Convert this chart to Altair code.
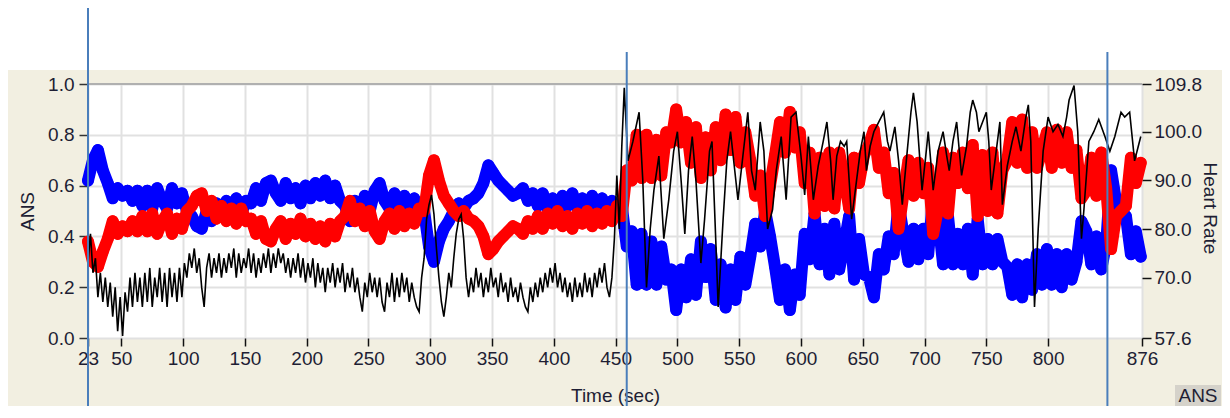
import altair as alt
import pandas as pd

# ---------------- data ----------------
X_TICKS = [23, 50, 100, 150, 200, 250, 300, 350, 400, 450, 500, 550, 600, 650, 700, 750, 800, 876]
ANS_TICKS = [0.0, 0.2, 0.4, 0.6, 0.8, 1.0]
HR_TICKS = [57.6, 70.0, 80.0, 90.0, 100.0, 109.8]
MARKER_FIRST = [23]
MARKER_OTHERS = [459, 848]

# ANS samples every 4 s starting at 23 s
ANS_START, ANS_STEP = 23, 4
red1 = [0.38, 0.30, 0.28, 0.34, 0.39, 0.46, 0.41, 0.44, 0.42, 0.46]
red2 = [0.42, 0.48, 0.42, 0.49, 0.41, 0.46, 0.49, 0.41, 0.47, 0.43, 0.50]
red3 = [0.52, 0.56, 0.57, 0.50, 0.54, 0.47, 0.52, 0.46, 0.51, 0.45, 0.51, 0.46]
red4 = [0.47, 0.41, 0.46, 0.39, 0.38, 0.43, 0.46, 0.39, 0.45, 0.41, 0.47, 0.40, 0.45, 0.39, 0.44, 0.38, 0.45, 0.40, 0.46]
red5 = [0.48, 0.54, 0.46, 0.51, 0.44, 0.50, 0.42, 0.39, 0.46, 0.49, 0.43, 0.50, 0.44, 0.49, 0.45, 0.51]
red6 = [0.50, 0.64, 0.70, 0.62, 0.56, 0.53, 0.50, 0.48, 0.50, 0.47, 0.46, 0.44, 0.40, 0.33, 0.35]
red7 = [0.38, 0.40, 0.42, 0.44, 0.43, 0.41, 0.46, 0.43, 0.48, 0.43, 0.49, 0.45, 0.50, 0.44, 0.48, 0.43, 0.49, 0.45, 0.50, 0.44, 0.49, 0.45, 0.50, 0.46, 0.52]
red8 = [0.48, 0.66, 0.62, 0.80, 0.63, 0.80, 0.63, 0.78, 0.64, 0.81, 0.77, 0.90, 0.77, 0.85, 0.69, 0.83, 0.63, 0.79, 0.66, 0.83,
        0.70, 0.88, 0.74, 0.87, 0.69, 0.81, 0.70, 0.56, 0.64, 0.48, 0.60, 0.72, 0.85, 0.73, 0.89, 0.75]
red9 = [0.81, 0.61, 0.73, 0.49, 0.71, 0.52, 0.73, 0.51, 0.73, 0.63, 0.51, 0.71, 0.61, 0.72, 0.76, 0.82, 0.67, 0.73, 0.57, 0.65,
        0.43, 0.57, 0.70, 0.56, 0.69, 0.57, 0.67, 0.41, 0.51, 0.73, 0.49, 0.71, 0.61, 0.73, 0.59]
red10 = [0.76, 0.48, 0.72, 0.50, 0.73, 0.49, 0.66, 0.70, 0.85, 0.69, 0.86, 0.67, 0.81, 0.67, 0.74, 0.81, 0.67, 0.82, 0.69, 0.81,
         0.67, 0.74, 0.55, 0.58, 0.71, 0.56, 0.73, 0.59, 0.35, 0.48, 0.50, 0.52, 0.71, 0.61, 0.69]

blue1 = [0.62, 0.70, 0.74, 0.66, 0.61, 0.55, 0.59, 0.56, 0.58, 0.54]
blue2 = [0.58, 0.52, 0.58, 0.51, 0.59, 0.54, 0.51, 0.59, 0.53, 0.57, 0.50]
blue3 = [0.48, 0.44, 0.43, 0.50, 0.46, 0.53, 0.48, 0.54, 0.49, 0.55, 0.49, 0.54]
blue4 = [0.53, 0.59, 0.54, 0.61, 0.62, 0.57, 0.54, 0.61, 0.55, 0.59, 0.53, 0.60, 0.55, 0.61, 0.56, 0.62, 0.55, 0.60, 0.54]
blue5 = [0.52, 0.46, 0.54, 0.49, 0.56, 0.50, 0.58, 0.61, 0.54, 0.51, 0.57, 0.50, 0.56, 0.51, 0.55, 0.49]
blue6 = [0.50, 0.36, 0.30, 0.38, 0.43, 0.46, 0.50, 0.53, 0.51, 0.54, 0.55, 0.57, 0.61, 0.68, 0.65]
blue7 = [0.62, 0.60, 0.58, 0.56, 0.57, 0.59, 0.54, 0.57, 0.52, 0.57, 0.51, 0.55, 0.50, 0.56, 0.52, 0.57, 0.51, 0.55, 0.50, 0.56, 0.51, 0.55, 0.50, 0.54, 0.48]
blue8 = [0.52, 0.36, 0.42, 0.21, 0.41, 0.21, 0.38, 0.21, 0.36, 0.23, 0.27, 0.11, 0.27, 0.16, 0.31, 0.17, 0.38, 0.24, 0.35, 0.15,
         0.29, 0.12, 0.27, 0.15, 0.32, 0.21, 0.32, 0.45, 0.36, 0.50, 0.40, 0.28, 0.15, 0.27, 0.11, 0.25]
blue9 = [0.17, 0.41, 0.31, 0.49, 0.29, 0.43, 0.25, 0.45, 0.27, 0.37, 0.48, 0.23, 0.39, 0.25, 0.24, 0.16, 0.33, 0.27, 0.40, 0.33,
         0.53, 0.41, 0.30, 0.43, 0.31, 0.43, 0.33, 0.56, 0.47, 0.29, 0.48, 0.29, 0.41, 0.29, 0.43]
blue10 = [0.25, 0.47, 0.29, 0.39, 0.29, 0.39, 0.30, 0.28, 0.17, 0.29, 0.16, 0.29, 0.19, 0.33, 0.21, 0.35, 0.21, 0.33, 0.20, 0.33,
          0.23, 0.30, 0.46, 0.42, 0.29, 0.40, 0.27, 0.37, 0.66, 0.54, 0.50, 0.48, 0.33, 0.42, 0.32]

# Heart rate, first part sampled every 2 s from 23 s
HR_START, HR_STEP = 23, 2
hr_first = [73, 79, 71, 74, 66, 71, 65, 70, 64, 69,
            62, 68, 59, 66, 58, 67, 63, 70, 64, 71,
            65, 70, 64, 71, 65, 72, 64, 70, 66, 72,
            65, 71, 64, 72, 66, 71, 65, 72, 66, 73,
            70, 75, 72, 76, 71, 74, 68, 64, 72, 75,
            70, 74, 71, 75, 70, 74, 71, 75, 72, 76,
            70, 75, 71, 74, 72, 76, 71, 75, 70, 74,
            71, 75, 72, 76, 71, 75, 72, 76, 73, 75,
            71, 74, 70, 74, 71, 75, 70, 74, 69, 73,
            70, 74, 68, 73, 69, 72, 67, 72, 69, 73,
            68, 72, 69, 73, 67, 71, 68, 72, 67, 70,
            66, 63, 69, 66, 71, 67, 70, 66, 70, 65,
            63, 69, 66, 71, 65, 70, 66, 71, 67, 70,
            65, 69, 66, 64, 63, 70, 74, 82, 85, 87,
            83, 76, 70, 65, 62, 66, 71, 68, 74, 79,
            82, 83, 78, 70, 66, 70, 67, 72, 68, 71,
            66, 70, 67, 72, 68, 70, 66, 71, 67, 69,
            65, 70, 66, 68, 65, 69, 66, 64, 63, 68,
            65, 69, 66, 70, 67, 71, 68, 72, 69, 73,
            68, 71, 67, 70, 66, 69, 65, 70, 66, 69,
            66, 71, 67, 70, 66, 71, 68, 72, 69, 73,
            68, 66, 70, 78, 91, 80, 97]
# second part, read at turning points
hr_second_t = [457, 460, 464, 469, 472, 475, 478, 481, 485, 489, 493, 497, 500, 503, 506, 509, 512, 515, 519, 522,
               526, 528, 531, 533, 537, 540, 543, 546, 549, 553, 557, 560, 563, 567, 570, 573, 577, 580, 584, 588,
               592, 596, 600, 603, 606, 610, 614, 618, 621, 624, 626, 629, 632, 635, 637, 641, 645, 648, 651, 653,
               656, 659, 663, 667, 670, 672, 676, 679, 682, 686, 689, 691, 694, 698, 701, 703, 705, 707, 711, 715,
               718, 720, 723, 726, 730, 734, 737, 739, 742, 744, 747, 750, 752, 754, 758, 761, 763, 767, 771, 774,
               778, 782, 784, 786, 789, 792, 796, 800, 804, 808, 812, 815, 817, 821, 824, 827, 829, 833, 837, 841,
               846, 850, 854, 859, 862, 866, 870, 873, 875]
hr_second_v = [109, 94, 98, 104, 90, 68, 80, 88, 95, 78, 86, 96, 100, 90, 79, 92, 99, 90, 73, 82,
               96, 98, 78, 64, 82, 94, 100, 93, 86, 95, 104, 92, 88, 102, 96, 80, 84, 92, 99, 86,
               103, 104, 95, 87, 99, 86, 93, 98, 102, 94, 86, 95, 98, 97, 98, 82, 90, 96, 100, 92,
               97, 100, 102, 104, 98, 96, 101, 94, 85, 96, 104, 108, 102, 88, 95, 100, 94, 88, 96, 100,
               95, 92, 98, 102, 91, 97, 104, 106.5, 104, 100, 102, 104, 98, 88, 96, 102, 85, 93, 98, 101,
               96, 103, 105.5, 98, 64, 80, 96, 103, 100, 101.5, 99, 103, 106.5, 109.5, 100, 78, 84, 98, 100, 102.5,
               99, 96, 99, 104, 103, 104, 94, 97, 99]

# ---------------- tables ----------------
red_vals = red1 + red2 + red3 + red4 + red5 + red6 + red7 + red8 + red9 + red10
blue_vals = blue1 + blue2 + blue3 + blue4 + blue5 + blue6 + blue7 + blue8 + blue9 + blue10
red_df = pd.DataFrame({"t": [ANS_START + ANS_STEP * i for i in range(len(red_vals))], "ans": red_vals})
blue_df = pd.DataFrame({"t": [ANS_START + ANS_STEP * i for i in range(len(blue_vals))], "ans": blue_vals})
hr_df = pd.DataFrame({
    "t": [HR_START + HR_STEP * i for i in range(len(hr_first))] + hr_second_t,
    "hr": hr_first + hr_second_v,
})
one = pd.DataFrame({"k": [0]})

# ---------------- style ----------------
W, H = 1054, 254
PAD_L, PAD_T, PAD_R, PAD_B = 80, 76, 80, 68
FONT = "Liberation Sans, Arial, sans-serif"
TXT = "#1e1e34"
BEIGE = "#f2efe1"
GRID = "#e1e1e1"
FS = 19
DOT = 135
BAND = 12

x_enc = alt.X(
    "t:Q",
    scale=alt.Scale(domain=[23, 876], nice=False, zero=False),
    axis=alt.Axis(values=X_TICKS, title="Time (sec)", grid=True, gridColor=GRID, gridWidth=2,
                  domain=False, tickColor="#111111", tickSize=8, tickWidth=1.5,
                  labelFont=FONT, labelFontSize=FS, labelColor=TXT, labelPadding=3,
                  labelOverlap=False, labelFlush=False,
                  titleFont=FONT, titleFontSize=FS, titleFontWeight="normal", titleColor=TXT,
                  titleX=527, titleY=63, titleBaseline="alphabetic"),
)
y_ans = alt.Y(
    "ans:Q",
    scale=alt.Scale(domain=[0, 1], nice=False, zero=False),
    axis=alt.Axis(values=ANS_TICKS, format=".1f", orient="left", title="ANS", grid=True,
                  gridColor=GRID, gridWidth=2, domain=False, tickColor="#333333", tickSize=9,
                  tickWidth=1.5, labelFont=FONT, labelFontSize=FS, labelColor=TXT, labelPadding=5,
                  labelFlush=False, titleFont=FONT, titleFontSize=FS, titleFontWeight="normal",
                  titleColor=TXT, titleAngle=270, titleX=-55, titleY=127, titleBaseline="alphabetic",
                  titleAlign="center"),
)
y_hr = alt.Y(
    "hr:Q",
    scale=alt.Scale(domain=[57.6, 109.8], nice=False, zero=False),
    axis=alt.Axis(values=HR_TICKS, format=".1f", orient="right", title="Heart Rate", grid=False,
                  domain=False, tickColor="#111111", tickSize=9, tickWidth=1.5,
                  labelFont=FONT, labelFontSize=FS, labelColor=TXT, labelPadding=3, labelFlush=False,
                  titleFont=FONT, titleFontSize=FS, titleFontWeight="normal", titleColor=TXT,
                  titleAngle=90, titleX=61, titleY=124, titleBaseline="alphabetic", titleAlign="center"),
)

white_top = alt.Chart(one).mark_rect(color="white").encode(
    x=alt.value(-PAD_L), x2=alt.value(W + PAD_R), y=alt.value(-PAD_T), y2=alt.value(-14))


def band(df, color):
    line = alt.Chart(df).mark_line(color=color, strokeWidth=BAND, strokeJoin="round",
                                   strokeCap="round").encode(x=x_enc, y=y_ans)
    pts = alt.Chart(df).mark_circle(size=DOT, color=color, opacity=1).encode(x=x_enc, y=y_ans)
    return [line, pts]


top_rule = alt.Chart(pd.DataFrame({"ans": [1.0]})).mark_rule(color="#b0b0b0", strokeWidth=2).encode(y=y_ans)
ans_group = alt.layer(*band(blue_df, "#0000ff"), *band(red_df, "#ff0000"), top_rule)

hr_line = alt.Chart(hr_df).mark_line(color="black", strokeWidth=1.6).encode(x=x_enc, y=y_hr)

mk1 = alt.Chart(pd.DataFrame({"t": MARKER_FIRST})).mark_rule(color="#4a7ebb", strokeWidth=2).encode(
    x=x_enc, y=alt.value(-PAD_T), y2=alt.value(H + PAD_B))
mk2 = alt.Chart(pd.DataFrame({"t": MARKER_OTHERS})).mark_rule(color="#4a7ebb", strokeWidth=2).encode(
    x=x_enc, y=alt.value(-32), y2=alt.value(H + PAD_B))

box = alt.Chart(one).mark_rect(color="#d5d2ca").encode(
    x=alt.value(1087), x2=alt.value(1133), y=alt.value(301), y2=alt.value(H + PAD_B))
box_txt = alt.Chart(one).mark_text(text="ANS", font=FONT, fontSize=FS, color=TXT,
                                   align="center", baseline="middle").encode(
    x=alt.value(1110), y=alt.value(312))

chart = alt.layer(white_top, ans_group, hr_line, mk1, mk2, box, box_txt).resolve_scale(
    y="independent"
).properties(
    width=W, height=H,
    autosize=alt.AutoSizeParams(type="none"),
    padding={"left": PAD_L, "top": PAD_T, "right": PAD_R, "bottom": PAD_B},
    background=BEIGE,
).configure_view(fill="white", stroke=None)

chart.save("out.html", embed_options={"renderer": "svg", "actions": False})
